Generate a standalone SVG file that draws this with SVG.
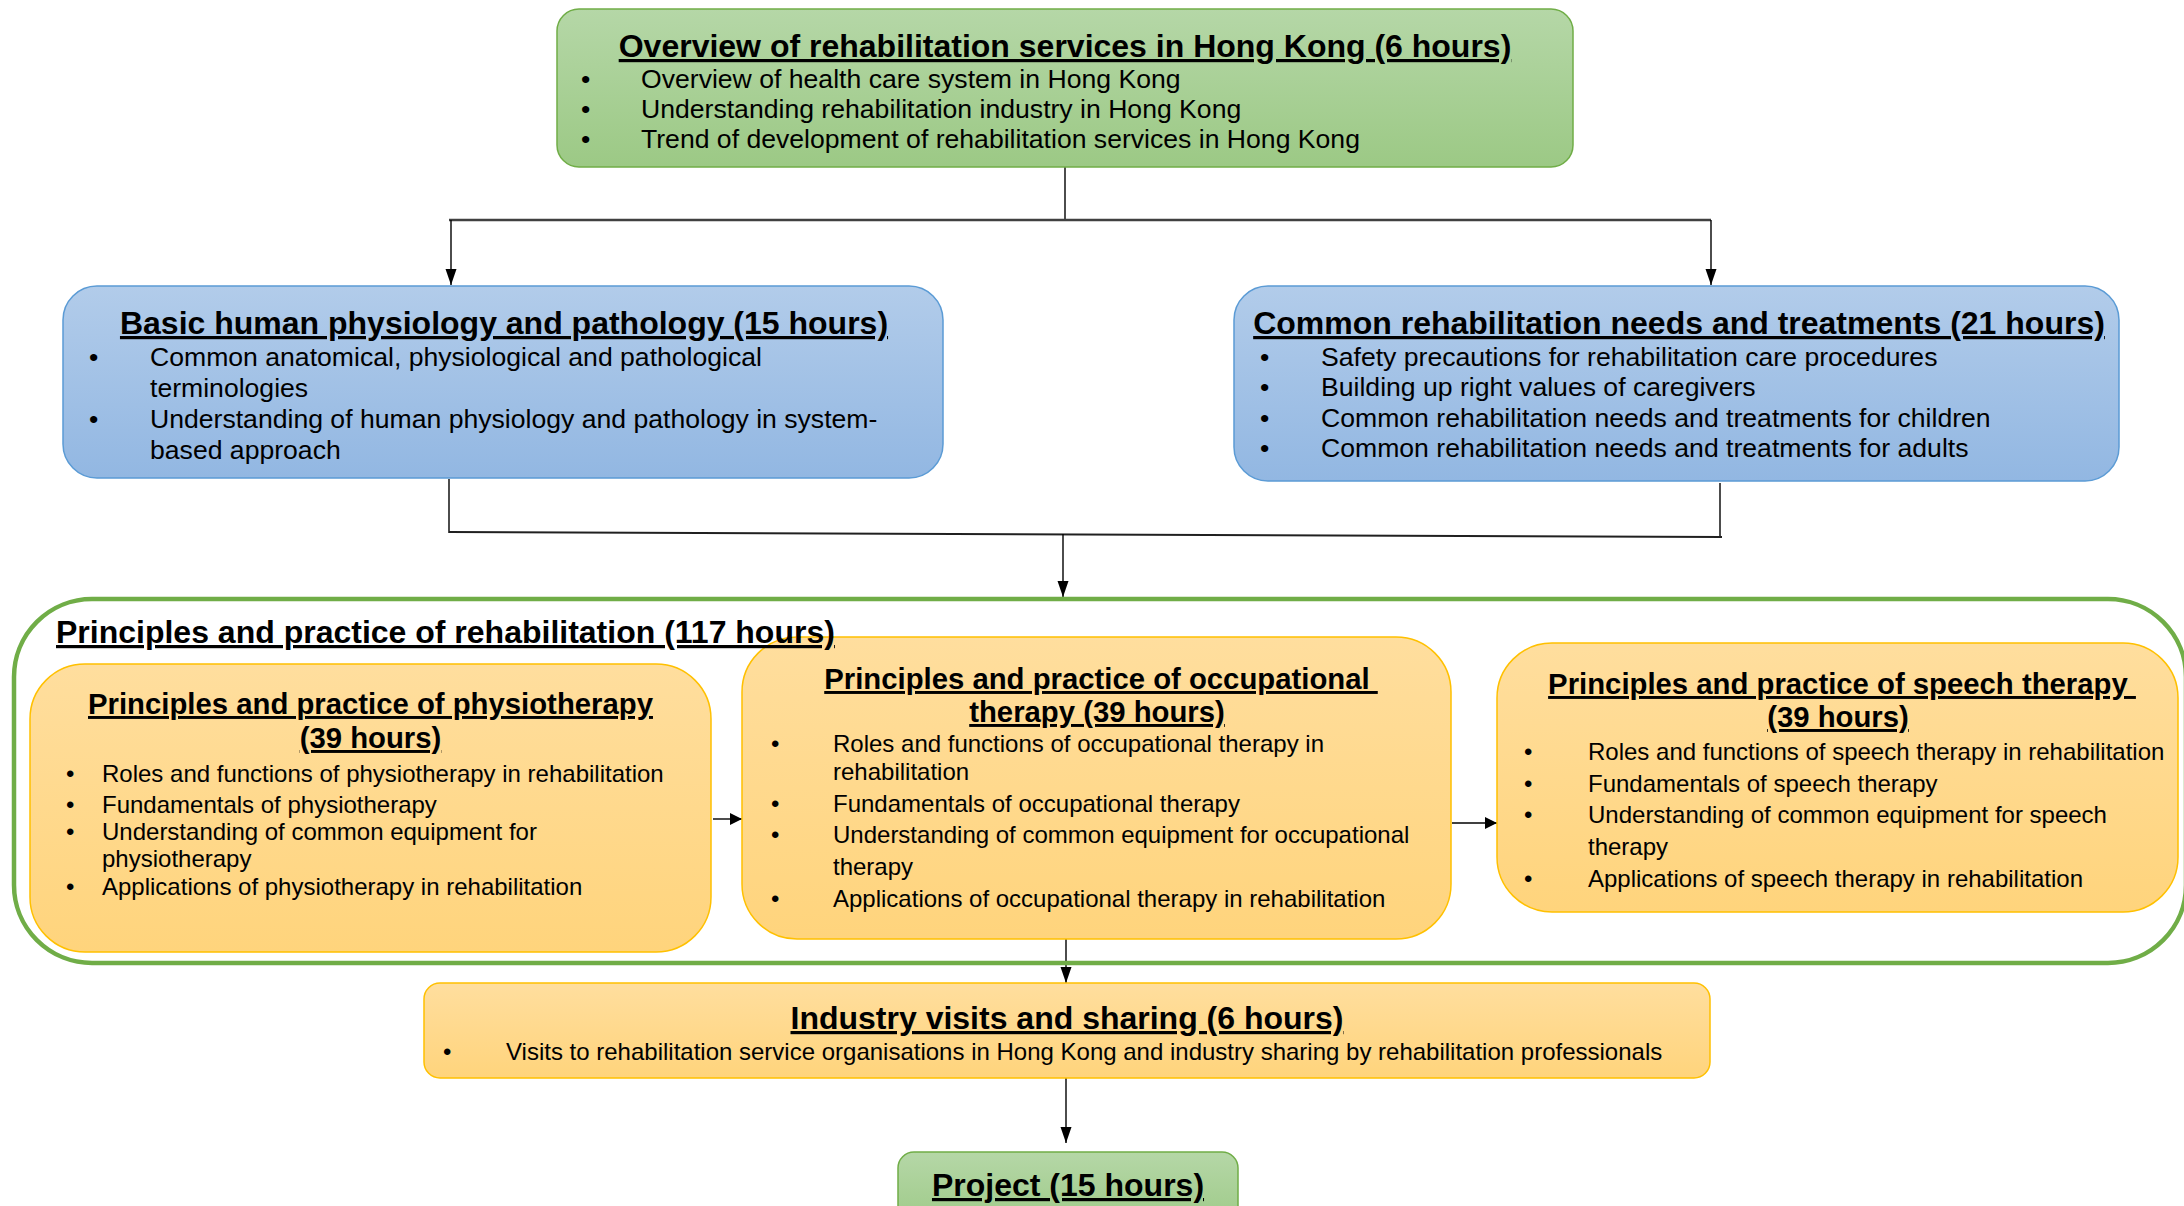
<svg xmlns="http://www.w3.org/2000/svg" width="2184" height="1206" viewBox="0 0 2184 1206">
<defs>
<linearGradient id="gGreen" x1="0" y1="0" x2="0" y2="1"><stop offset="0" stop-color="#B5D7A7"/><stop offset="1" stop-color="#9CC985"/></linearGradient>
<linearGradient id="gBlue" x1="0" y1="0" x2="0" y2="1"><stop offset="0" stop-color="#B2CCEA"/><stop offset="1" stop-color="#92B7E2"/></linearGradient>
<linearGradient id="gOrange" x1="0" y1="0" x2="0" y2="1"><stop offset="0" stop-color="#FFDE9E"/><stop offset="1" stop-color="#FFD47C"/></linearGradient>
<marker id="arr" markerUnits="userSpaceOnUse" markerWidth="12" markerHeight="18" viewBox="0 0 12 18" refX="12" refY="9" orient="auto">
<path d="M0,3 L12,9 L0,15 Z" fill="#000"/>
</marker>
<marker id="arrV" markerUnits="userSpaceOnUse" markerWidth="16" markerHeight="12" viewBox="0 0 16 12" refX="16" refY="6" orient="auto">
<path d="M0,0.5 L16,6 L0,11.5 Z" fill="#000"/>
</marker>
</defs>
<style>
text{font-family:"Liberation Sans",Arial,sans-serif;fill:#000}
.t,.ts,.tl{font-weight:bold;text-decoration:underline;text-decoration-skip-ink:none;text-decoration-thickness:3px}
.t{font-size:32px;text-anchor:middle}
.ts{font-size:29.3px;text-anchor:middle}
.tl{font-size:32px}
.b{font-size:26.6px}
.bs{font-size:24px}
.green{fill:url(#gGreen);stroke:#70AD47;stroke-width:1.5}
.blue{fill:url(#gBlue);stroke:#5B9BD5;stroke-width:1.5}
.orange{fill:url(#gOrange);stroke:#FFC000;stroke-width:1.5}
.ln{stroke:#000;stroke-width:1.4;fill:none}
.lnh{stroke:#404040;stroke-width:2.5;fill:none}
</style>
<rect width="2184" height="1206" fill="#fff"/>

<g id="connectors">
<line class="ln" x1="1065" y1="167" x2="1065" y2="220"/>
<line class="lnh" x1="449" y1="220" x2="1711" y2="220"/>
<line class="ln" x1="451" y1="220" x2="451" y2="285" marker-end="url(#arrV)"/>
<line class="ln" x1="1711" y1="220" x2="1711" y2="285" marker-end="url(#arrV)"/>
<line class="ln" x1="449" y1="479" x2="449" y2="533"/>
<line class="ln" x1="1720" y1="483" x2="1720" y2="538"/>
<line class="lnh" x1="449" y1="532" x2="1722" y2="537" style="stroke:#202020;stroke-width:2"/>
<line class="ln" x1="1063" y1="534" x2="1063" y2="597" marker-end="url(#arrV)"/>
<line class="ln" x1="713" y1="819" x2="742" y2="819" marker-end="url(#arr)"/>
<line class="ln" x1="1452" y1="823" x2="1497" y2="823" marker-end="url(#arr)"/>
<line class="ln" x1="1066" y1="939" x2="1066" y2="983" marker-end="url(#arrV)"/>
<line class="ln" x1="1066" y1="1078" x2="1066" y2="1143" marker-end="url(#arrV)"/>
</g>

<g id="node-overview">
<rect class="green" x="557" y="9" width="1016" height="158" rx="22"/>
<text class="t" x="1065" y="57">Overview of rehabilitation services in Hong Kong (6 hours)</text>
<text class="b" x="581" y="88">•</text><text class="b" x="641" y="88">Overview of health care system in Hong Kong</text>
<text class="b" x="581" y="118">•</text><text class="b" x="641" y="118">Understanding rehabilitation industry in Hong Kong</text>
<text class="b" x="581" y="148">•</text><text class="b" x="641" y="148">Trend of development of rehabilitation services in Hong Kong</text>
</g>

<g id="node-physiology">
<rect class="blue" x="63" y="286" width="880" height="192" rx="34"/>
<text class="t" x="504" y="334">Basic human physiology and pathology (15 hours)</text>
<text class="b" x="89" y="366">•</text><text class="b" x="150" y="366">Common anatomical, physiological and pathological</text>
<text class="b" x="150" y="397">terminologies</text>
<text class="b" x="89" y="428">•</text><text class="b" x="150" y="428">Understanding of human physiology and pathology in system-</text>
<text class="b" x="150" y="459">based approach</text>
</g>

<g id="node-needs">
<rect class="blue" x="1234" y="286" width="885" height="195" rx="34"/>
<text class="t" x="1679" y="334">Common rehabilitation needs and treatments (21 hours)</text>
<text class="b" x="1260" y="366">•</text><text class="b" x="1321" y="366">Safety precautions for rehabilitation care procedures</text>
<text class="b" x="1260" y="396">•</text><text class="b" x="1321" y="396">Building up right values of caregivers</text>
<text class="b" x="1260" y="427">•</text><text class="b" x="1321" y="427">Common rehabilitation needs and treatments for children</text>
<text class="b" x="1260" y="457">•</text><text class="b" x="1321" y="457">Common rehabilitation needs and treatments for adults</text>
</g>

<g id="node-principles">
<rect x="14" y="599" width="2172" height="364" rx="78" fill="none" stroke="#70AD47" stroke-width="4.5"/>

<g id="node-physiotherapy">
<rect class="orange" x="30" y="664" width="681" height="288" rx="55"/>
<text class="ts" x="370.5" y="714">Principles and practice of physiotherapy</text>
<text class="ts" x="370.5" y="748">(39 hours)</text>
<text class="bs" x="66" y="782">•</text><text class="bs" x="102" y="782">Roles and functions of physiotherapy in rehabilitation</text>
<text class="bs" x="66" y="813">•</text><text class="bs" x="102" y="813">Fundamentals of physiotherapy</text>
<text class="bs" x="66" y="840">•</text><text class="bs" x="102" y="840">Understanding of common equipment for</text>
<text class="bs" x="102" y="867">physiotherapy</text>
<text class="bs" x="66" y="895">•</text><text class="bs" x="102" y="895">Applications of physiotherapy in rehabilitation</text>
</g>

<g id="node-occupational">
<rect class="orange" x="742" y="637" width="709" height="302" rx="55"/>
<text class="ts" x="1101" y="689">Principles and practice of occupational&#160;</text>
<text class="ts" x="1097" y="722">therapy (39 hours)</text>
<text class="bs" x="771" y="752">•</text><text class="bs" x="833" y="752">Roles and functions of occupational therapy in</text>
<text class="bs" x="833" y="780">rehabilitation</text>
<text class="bs" x="771" y="812">•</text><text class="bs" x="833" y="812">Fundamentals of occupational therapy</text>
<text class="bs" x="771" y="843">•</text><text class="bs" x="833" y="843">Understanding of common equipment for occupational</text>
<text class="bs" x="833" y="875">therapy</text>
<text class="bs" x="771" y="907">•</text><text class="bs" x="833" y="907">Applications of occupational therapy in rehabilitation</text>
</g>

<g id="node-speech">
<rect class="orange" x="1497" y="643" width="681" height="269" rx="55"/>
<text class="ts" x="1842" y="694">Principles and practice of speech therapy&#160;</text>
<text class="ts" x="1838" y="727">(39 hours)</text>
<text class="bs" x="1524" y="760">•</text><text class="bs" x="1588" y="760">Roles and functions of speech therapy in rehabilitation</text>
<text class="bs" x="1524" y="792">•</text><text class="bs" x="1588" y="792">Fundamentals of speech therapy</text>
<text class="bs" x="1524" y="823">•</text><text class="bs" x="1588" y="823">Understanding of common equipment for speech</text>
<text class="bs" x="1588" y="855">therapy</text>
<text class="bs" x="1524" y="887">•</text><text class="bs" x="1588" y="887">Applications of speech therapy in rehabilitation</text>
</g>

<text class="tl" x="56" y="643">Principles and practice of rehabilitation (117 hours)</text>
</g>

<g id="node-industry">
<rect class="orange" x="424" y="983" width="1286" height="95" rx="16"/>
<text class="t" x="1067" y="1029">Industry visits and sharing (6 hours)</text>
<text class="bs" x="443" y="1060">•</text><text class="bs" x="506" y="1060">Visits to rehabilitation service organisations in Hong Kong and industry sharing by rehabilitation professionals</text>
</g>

<g id="node-project">
<rect class="green" x="898" y="1152" width="340" height="80" rx="16"/>
<text class="t" x="1068" y="1196">Project (15 hours)</text>
</g>
</svg>
